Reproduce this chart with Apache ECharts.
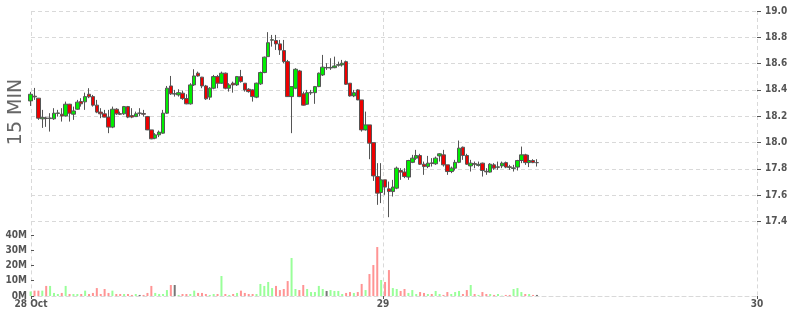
<!DOCTYPE html>
<html><head><meta charset="utf-8">
<script src="https://cdn.jsdelivr.net/npm/echarts@6/dist/echarts.min.js"></script>
<style>html,body{margin:0;padding:0;background:#fff}#c{width:800px;height:315px}</style>
</head><body><div id="c"></div>
<script>
const panelLabel = '15 MIN';
const firstBarTime = '2019-10-28T01:15:00Z';
const barMinutes = 15;

const opens = [18.316,18.352,18.337,18.180,18.187,18.182,18.180,18.221,18.215,18.202,
18.291,18.215,18.253,18.311,18.309,18.367,18.349,18.284,18.231,18.218,
18.193,18.117,18.253,18.219,18.218,18.273,18.205,18.197,18.223,18.220,
18.197,18.096,18.033,18.058,18.071,18.223,18.430,18.370,18.362,18.375,
18.334,18.294,18.438,18.527,18.497,18.430,18.345,18.413,18.501,18.451,
18.527,18.413,18.451,18.438,18.501,18.451,18.405,18.400,18.345,18.446,
18.532,18.653,18.778,18.775,18.750,18.699,18.615,18.349,18.413,18.544,
18.370,18.291,18.377,18.379,18.425,18.514,18.569,18.567,18.569,18.588,
18.590,18.615,18.451,18.354,18.400,18.324,18.096,18.134,17.999,17.741,
17.620,17.716,17.648,17.627,17.653,17.787,17.775,17.737,17.849,17.881,
17.901,17.835,17.817,17.845,17.838,17.898,17.906,17.830,17.779,17.805,
17.849,17.964,17.901,17.822,17.839,17.826,17.843,17.781,17.775,17.830,
17.811,17.822,17.847,17.815,17.803,17.813,17.863,17.906,17.847,17.863,17.847];
const closes = [18.367,18.347,18.185,18.191,18.182,18.187,18.223,18.225,18.202,18.291,
18.223,18.240,18.307,18.294,18.349,18.347,18.284,18.231,18.218,18.193,
18.117,18.253,18.218,18.215,18.273,18.193,18.193,18.218,18.223,18.215,
18.096,18.028,18.058,18.079,18.223,18.413,18.370,18.370,18.379,18.334,
18.294,18.438,18.506,18.506,18.430,18.332,18.413,18.501,18.451,18.527,
18.413,18.438,18.438,18.501,18.463,18.400,18.387,18.349,18.451,18.532,
18.649,18.759,18.782,18.750,18.704,18.615,18.349,18.425,18.557,18.349,
18.284,18.379,18.381,18.425,18.527,18.573,18.569,18.571,18.582,18.592,
18.603,18.443,18.354,18.379,18.324,18.096,18.134,17.995,17.746,17.615,
17.716,17.661,17.627,17.661,17.805,17.775,17.741,17.863,17.881,17.901,
17.835,17.817,17.843,17.841,17.881,17.914,17.830,17.779,17.805,17.849,
17.957,17.901,17.835,17.843,17.835,17.834,17.787,17.777,17.835,17.805,
17.815,17.843,17.813,17.811,17.807,17.863,17.906,17.847,17.863,17.847,17.847];
const lows = [18.278,18.324,18.172,18.111,18.119,18.083,18.172,18.197,18.159,18.197,
18.159,18.172,18.248,18.273,18.248,18.337,18.273,18.223,18.185,18.191,
18.071,18.109,18.210,18.210,18.210,18.185,18.185,18.197,18.202,18.197,
18.094,18.025,18.025,18.041,18.066,18.218,18.362,18.349,18.349,18.324,
18.291,18.288,18.430,18.501,18.413,18.324,18.324,18.405,18.413,18.446,
18.405,18.387,18.379,18.430,18.455,18.387,18.379,18.311,18.337,18.438,
18.527,18.653,18.729,18.704,18.666,18.603,18.347,18.071,18.405,18.345,
18.281,18.286,18.362,18.294,18.421,18.506,18.552,18.552,18.565,18.577,
18.577,18.438,18.349,18.345,18.322,18.083,18.091,17.873,17.708,17.526,
17.539,17.602,17.432,17.589,17.645,17.716,17.729,17.716,17.843,17.868,
17.830,17.754,17.805,17.817,17.830,17.855,17.817,17.754,17.767,17.787,
17.843,17.868,17.830,17.779,17.805,17.817,17.741,17.754,17.771,17.792,
17.792,17.805,17.805,17.792,17.779,17.787,17.843,17.830,17.813,17.843,17.817];
const highs = [18.385,18.415,18.339,18.248,18.195,18.223,18.261,18.248,18.261,18.311,
18.294,18.273,18.324,18.337,18.379,18.413,18.362,18.324,18.261,18.248,
18.248,18.273,18.261,18.235,18.278,18.278,18.261,18.235,18.261,18.248,
18.202,18.096,18.071,18.091,18.248,18.430,18.506,18.400,18.405,18.395,
18.367,18.451,18.557,18.539,18.499,18.438,18.421,18.514,18.514,18.539,
18.532,18.451,18.463,18.506,18.552,18.451,18.413,18.405,18.455,18.539,
18.653,18.839,18.818,18.818,18.780,18.780,18.628,18.425,18.565,18.552,
18.387,18.400,18.400,18.430,18.532,18.666,18.603,18.641,18.653,18.615,
18.628,18.623,18.451,18.400,18.405,18.324,18.235,18.134,17.999,17.843,
17.843,17.716,17.703,17.716,17.817,17.805,17.805,17.868,17.906,17.944,
17.914,17.855,17.898,17.881,17.893,17.919,17.944,17.830,17.817,17.868,
18.015,17.969,17.914,17.868,17.855,17.855,17.847,17.805,17.843,17.843,
17.855,17.855,17.855,17.830,17.830,17.868,17.969,17.914,17.906,17.873,17.873];
// volume in millions
const volumes = [3.0,3.5,3.5,3.5,6.6,6.6,2.0,1.3,2.0,6.6,
1.3,1.3,1.3,1.3,3.5,1.3,2.0,5.2,1.3,4.6,
2.0,3.5,1.3,1.3,1.3,1.3,0.7,1.3,0.7,0.7,
2.0,6.6,2.0,1.3,1.3,3.9,7.2,7.2,0.7,1.3,
1.3,1.3,3.5,2.0,2.0,1.3,0.7,1.3,1.3,13.1,
1.3,0.7,1.3,2.0,3.5,2.0,1.3,1.3,1.3,7.9,
6.6,9.2,5.2,6.6,3.9,4.6,9.8,24.9,4.6,3.9,
7.2,4.6,2.6,2.6,6.6,4.6,3.3,3.9,3.3,3.3,
1.3,2.0,2.6,2.0,2.6,7.9,3.9,14.4,20.3,32.1,
10.5,9.2,17.0,5.2,4.6,3.3,4.6,2.0,3.9,1.3,
2.6,2.0,1.3,1.3,3.3,1.3,0.7,2.6,1.3,2.6,
3.3,1.3,3.9,7.2,1.3,0.7,2.6,1.3,1.3,0.7,
1.3,0.2,0.7,0.7,4.6,5.2,2.6,1.3,1.3,0.7,0.7];

const xAxisStart = '2019-10-28T01:24:00Z';
const xAxisEnd = '2019-10-30T00:00:00Z';
const xTickTimes = ['2019-10-28T01:24:00Z', '2019-10-29T00:00:00Z', '2019-10-30T00:00:00Z'];
const xTickLabels = ['28 Oct', '29', '30'];
const priceMin = 17.4, priceMax = 19.0, priceStep = 0.2;
const volumeTicks = [0, 10, 20, 30, 40];
const volumeTop = 48.9;

const MIN = 60000;
const t0 = Date.parse(firstBarTime);
const times = opens.map((_, i) => t0 + i * barMinutes * MIN + barMinutes * MIN / 2);
const xMin = Date.parse(xAxisStart), xMax = Date.parse(xAxisEnd);
const xTicks = xTickTimes.map(s => Date.parse(s));

const UP = '#00ee00', DOWN = '#ee0000', EDGE = '#555';
const VUP = '#99ff99', VDOWN = '#ff9494', VFLAT = '#777';

const candleData = times.map((t, i) => [t, opens[i], closes[i], lows[i], highs[i]]);
const volData = times.map((t, i) => ({
  value: [t, volumes[i] * 1e6],
  itemStyle: { color: closes[i] > opens[i] ? VUP : (closes[i] < opens[i] ? VDOWN : VFLAT) }
}));

const FONT = '"DejaVu Sans Condensed", "DejaVu Sans", sans-serif';
const labelStyle = { color: '#555', fontWeight: 'bold', fontSize: 10, fontFamily: FONT };
const dashed = { color: '#d9d9d9', type: [4, 3], width: 1 };

const chart = echarts.init(document.getElementById('c'), null, { renderer: 'canvas' });
chart.setOption({
  animation: false,
  backgroundColor: '#fff',
  grid: [
    { left: 31, right: 43, top: 11, height: 210.4 },
    { left: 31, right: 43, top: 221.4, bottom: 19 }
  ],
  xAxis: [
    { type: 'value', gridIndex: 0, min: xMin, max: xMax, scale: true,
      axisLine: { show: false }, axisLabel: { show: false },
      axisTick: { show: false, customValues: xTicks },
      splitLine: { show: true, lineStyle: dashed } },
    { type: 'value', gridIndex: 1, min: xMin, max: xMax, scale: true,
      axisLine: { show: true, onZero: false, lineStyle: dashed },
      axisTick: { show: true, length: 3, customValues: xTicks, lineStyle: { color: '#555' } },
      axisLabel: Object.assign({ margin: 3, customValues: xTicks, hideOverlap: false,
        formatter: v => { const k = xTicks.findIndex(x => Math.abs(x - v) < 1000); return k >= 0 ? xTickLabels[k] : ''; } }, labelStyle),
      splitLine: { show: true, lineStyle: dashed } }
  ],
  yAxis: [
    { type: 'value', gridIndex: 0, position: 'right', min: priceMin, max: priceMax, interval: priceStep,
      axisLine: { show: false },
      axisTick: { show: true, length: 4, lineStyle: { color: '#555' } },
      axisLabel: Object.assign({ margin: 8, formatter: v => v.toFixed(1) }, labelStyle),
      splitLine: { show: true, lineStyle: dashed } },
    { type: 'value', gridIndex: 1, position: 'left', min: 0, max: volumeTop * 1e6,
      axisLine: { show: false },
      axisTick: { show: true, inside: true, length: 3, customValues: volumeTicks.map(v => v * 1e6), lineStyle: { color: '#555' } },
      axisLabel: Object.assign({ margin: 4, customValues: volumeTicks.map(v => v * 1e6),
        formatter: v => Math.round(v / 1e6) + 'M' }, labelStyle),
      splitLine: { show: false } }
  ],
  series: [
    { type: 'candlestick', xAxisIndex: 0, yAxisIndex: 0, data: candleData, barWidth: 4, clip: false,
      itemStyle: { color: UP, color0: DOWN, borderColor: EDGE, borderColor0: EDGE, borderColorDoji: EDGE, borderWidth: 1 } },
    { type: 'bar', xAxisIndex: 1, yAxisIndex: 1, data: volData, barWidth: 2 }
  ],
  graphic: [
    { type: 'text', x: 16, y: 112, rotation: Math.PI / 2,
      style: { text: panelLabel, font: '19px "DejaVu Sans", sans-serif', fill: '#666', align: 'center', verticalAlign: 'middle' } }
  ]
});
</script></body></html>
